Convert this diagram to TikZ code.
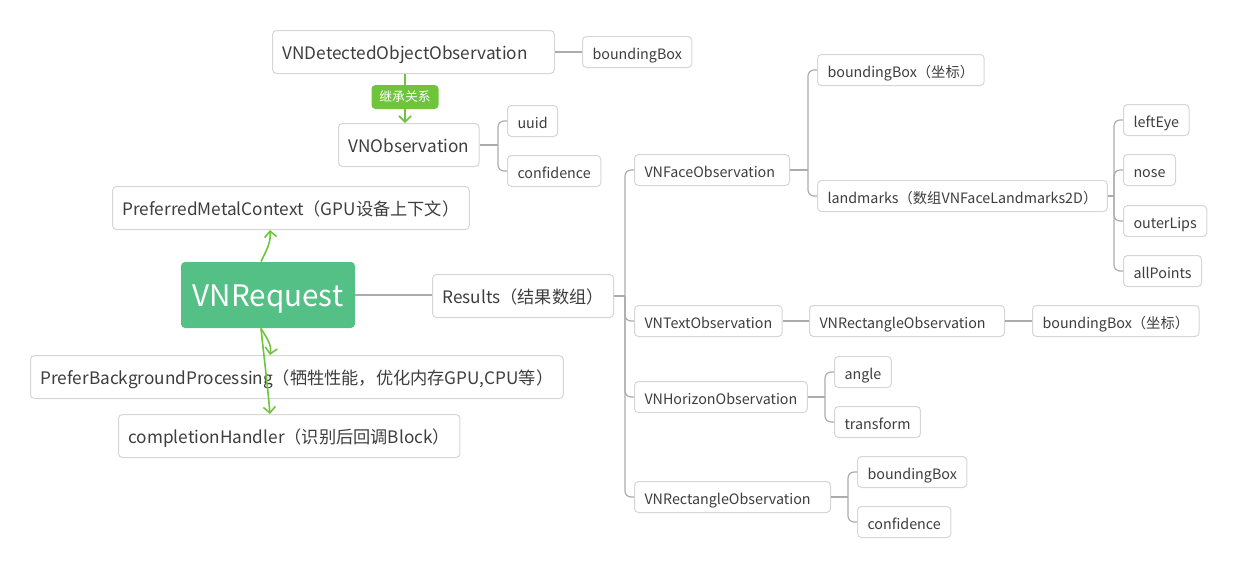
\documentclass[tikz,border=0pt]{standalone}
\usepackage{fontspec}
\setmainfont{Noto Sans CJK SC}
\usetikzlibrary{arrows.meta, positioning}
\definecolor{boxgray}{RGB}{214,214,214}
\definecolor{linegray}{RGB}{172,172,172}
\definecolor{txtgray}{RGB}{62,62,62}
\definecolor{reqgreen}{RGB}{84,192,134}
\definecolor{arrgreen}{RGB}{110,197,60}

\begin{document}
\begin{tikzpicture}[x=0.5pt, y=-0.5pt,
  mbox/.style={draw=boxgray, line width=0.5pt, rounded corners=2pt, fill=white, text=txtgray, anchor=west, inner xsep=5pt, inner ysep=0pt, text height=0.66em+0.5pt, text depth=0pt},
  bigbox/.style={mbox, font=\fontsize{8.6}{10}\selectfont, minimum height=21.5pt},
  smallbox/.style={mbox, font=\fontsize{7.15}{9}\selectfont, minimum height=15.5pt},
  wide/.style={text width=#1, align=left},
  reqbox/.style={fill=reqgreen, text=white, rounded corners=2pt, font=\fontsize{14.8}{17}\selectfont, minimum width=87pt, minimum height=33pt, inner ysep=0pt, text height=0.7em+4pt, text depth=0pt},
  tagbox/.style={fill=arrgreen, text=white, rounded corners=2pt, font=\fontsize{6.4}{7}\selectfont, minimum width=33.5pt, minimum height=12pt, inner sep=0pt},
  conn/.style={draw=linegray, line width=0.6pt},
  elbow/.style={conn, rounded corners=3pt},
  garr/.style={draw=arrgreen, line width=0.8pt, -{Straight Barb[length=3pt, width=6pt]}}
]
  \useasboundingbox (0,0) rectangle (1240,569);

  % inheritance
  \node[bigbox, wide=131pt] (det) at (272,52) {VNDetectedObjectObservation};
  \node[smallbox] (detbb) at (582,52) {boundingBox};
  \node[tagbox] (inh) at (405,97) {继承关系};
  \node[bigbox] (obs) at (338,145) {VNObservation};
  \node[smallbox] (uuid) at (507,121) {uuid};
  \node[smallbox] (obsconf) at (507,171) {confidence};

  % request and its properties
  \node[bigbox] (metal) at (112,208) {PreferredMetalContext（GPU设备上下文）};
  \node[reqbox] (req) at (268,295) {VNRequest};
  \node[bigbox] (res) at (432,296) {Results（结果数组）};
  \node[bigbox] (bg) at (30,377) {PreferBackgroundProcessing（牺牲性能，优化内存GPU,CPU等）};
  \node[bigbox] (handler) at (118,436) {completionHandler（识别后回调Block）};

  % results
  \node[smallbox, wide=67.5pt] (face) at (634,170) {VNFaceObservation};
  \node[smallbox] (facebb) at (817,70) {boundingBox（坐标）};
  \node[smallbox] (lmk) at (817,196) {landmarks（数组VNFaceLandmarks2D）};
  \node[smallbox] (leye) at (1123,120) {leftEye};
  \node[smallbox] (nose) at (1123,170) {nose};
  \node[smallbox] (lips) at (1123,221) {outerLips};
  \node[smallbox] (allpts) at (1123,271) {allPoints};
  \node[smallbox] (text) at (634,321) {VNTextObservation};
  \node[smallbox, wide=87.5pt] (textrect) at (809,321) {VNRectangleObservation};
  \node[smallbox] (textbb) at (1032,321) {boundingBox（坐标）};
  \node[smallbox] (hor) at (634,397) {VNHorizonObservation};
  \node[smallbox] (angle) at (834,372) {angle};
  \node[smallbox] (trans) at (834,422) {transform};
  \node[smallbox, wide=88pt] (rect) at (634,497) {VNRectangleObservation};
  \node[smallbox] (rectbb) at (857,472) {boundingBox};
  \node[smallbox] (rectconf) at (857,522) {confidence};

  % straight links
  \draw[conn] (det.east) -- (detbb.west);
  \draw[conn] (req.east) -- (req.east -| res.west);
  \draw[conn] (text.east) -- (textrect.west);
  \draw[conn] (textrect.east) -- (textbb.west);

  % tree links
  \draw[conn] (obs.east) -- ([xshift=-4.5pt]obs.east -| uuid.west) coordinate (obsj);
  \foreach \c in {uuid, obsconf} \draw[elbow] (obsj) |- (\c.west);
  \draw[conn] (res.east) -- ([xshift=-4.5pt]res.east -| face.west) coordinate (resj);
  \foreach \c in {face, text, hor, rect} \draw[elbow] (resj) |- (\c.west);
  \draw[conn] (face.east) -- ([xshift=-4.5pt]face.east -| lmk.west) coordinate (facej);
  \foreach \c in {facebb, lmk} \draw[elbow] (facej) |- (\c.west);
  \draw[conn] (lmk.east) -- ([xshift=-4.5pt]lmk.east -| leye.west) coordinate (lmkj);
  \foreach \c in {leye, nose, lips, allpts} \draw[elbow] (lmkj) |- (\c.west);
  \draw[conn] (hor.east) -- ([xshift=-4.5pt]hor.east -| angle.west) coordinate (horj);
  \foreach \c in {angle, trans} \draw[elbow] (horj) |- (\c.west);
  \draw[conn] (rect.east) -- ([xshift=-4.5pt]rect.east -| rectbb.west) coordinate (rectj);
  \foreach \c in {rectbb, rectconf} \draw[elbow] (rectj) |- (\c.west);

  % green arrows
  \draw[arrgreen, line width=0.8pt] (inh.north |- det.south) -- (inh.north);
  \draw[garr] (inh.south) -- (inh.south |- obs.north);
  \draw[garr] ([xshift=-3.5pt]req.north) to[out=65, in=-85] ([xshift=1pt]metal.south -| req.north);
  \draw[garr] ([xshift=-3.5pt]req.south) to[out=-60, in=80] ([xshift=1pt]bg.north -| req.south);
  \draw[garr] ([xshift=-3.5pt]req.south) to[out=-84, in=95] ([xshift=1pt]handler.north -| req.south);
\end{tikzpicture}
\end{document}
